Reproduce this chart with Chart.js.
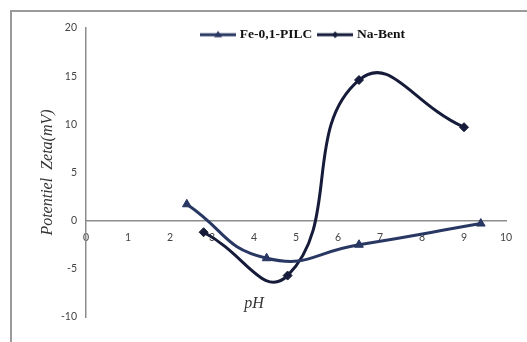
<!DOCTYPE html>
<html>
<head>
<meta charset="utf-8">
<script src="https://cdn.jsdelivr.net/npm/chart.js@4.4.0/dist/chart.umd.min.js"></script>
<style>
body{margin:0;background:#fff;overflow:hidden}
#wrap{position:absolute;left:0;top:0;width:527px;height:342px}
</style>
</head>
<body>
<div id="wrap"><canvas id="zetaChart"></canvas></div>
<script>
// pH values and zeta potential (mV)
var fePH=[2.4,4.3,6.5,9.4]
var feZeta=[1.7,-3.9,-2.5,-0.3]
var naPH=[2.8,4.8,6.5,9.0]
var naZeta=[-1.2,-5.7,14.6,9.7]
var seriesNames=['Fe-0,1-PILC','Na-Bent']
var xTicks=[0,1,2,3,4,5,6,7,8,9,10]
var yTicks=[-10,-5,0,5,10,15,20]

var feColor='#293763'
var naColor='#151b38'

const toPoints = function(xs,ys){
	return xs.map((x,i) => ({x:x,y:ys[i]}))
}

// little line+marker images for the legend
const legendIcon = function(color,style){
	var c=document.createElement('canvas')
	c.width=36
	c.height=10
	var g=c.getContext('2d')
	g.strokeStyle=color
	g.lineWidth=3
	g.beginPath()
	g.moveTo(0,5)
	g.lineTo(36,5)
	g.stroke()
	g.fillStyle=color
	g.beginPath()
	if(style=='triangle'){
		g.moveTo(18,1);g.lineTo(22,7.5);g.lineTo(14,7.5)
	}else{
		g.moveTo(18,1.5);g.lineTo(21,5);g.lineTo(18,8.5);g.lineTo(15,5)
	}
	g.closePath()
	g.fill()
	return c
}
var icons=[legendIcon(feColor,'triangle'),legendIcon(naColor,'rectRot')]

const framePlugin = {
	id:'frame',
	beforeDraw(chart){
		var ctx=chart.ctx
		ctx.save()
		ctx.strokeStyle='#9a9a9a'
		ctx.lineWidth=2
		ctx.strokeRect(11,11,600,400)
		ctx.restore()
	}
}

// legend sits inside the plot area like in the original, so give it room to draw
const legendOverlay = {
	id:'legendOverlay',
	afterLayout(chart){
		var lg=chart.legend
		lg.top=lg.top-8
		lg.height=34
		lg.bottom=lg.top+34
		lg.left=lg.left+8
		lg.right=lg.right+8
	}
}

const phLabel = {
	id:'phLabel',
	afterDraw(chart){
		var ctx=chart.ctx
		var xs=chart.scales.x, ys=chart.scales.y
		ctx.save()
		ctx.font='italic 16px "Liberation Serif"'
		ctx.fillStyle='#333'
		ctx.textAlign='center'
		ctx.textBaseline='middle'
		ctx.fillText('pH',xs.getPixelForValue(4.0),ys.getPixelForValue(-8.6))
		ctx.restore()
	}
}

new Chart(document.getElementById('zetaChart'),{
	type:'scatter',
	data:{
		datasets:[{
			label:seriesNames[0],
			data:toPoints(fePH,feZeta),
			showLine:true,
			tension:0.5,
			borderColor:feColor,
			backgroundColor:feColor,
			borderWidth:3,
			pointStyle:'triangle',
			pointRadius:5,
			pointBorderWidth:1
		},
		{
			label:seriesNames[1],
			data:toPoints(naPH,naZeta),
			showLine:true,
			tension:0.5,
			borderColor:naColor,
			backgroundColor:naColor,
			borderWidth:3,
			pointStyle:'rectRot',
			pointRadius:4.5,
			pointBorderWidth:1
		}]
	},
	options:{
		responsive:true,
		maintainAspectRatio:false,
		animation:false,
		layout:{padding:{left:38,top:28,right:21,bottom:25}},
		plugins:{
			tooltip:{enabled:false},
			legend:{
				position:'top',
				fullSize:false,
				maxHeight:0.01,
				labels:{
					usePointStyle:true,
					pointStyleWidth:30,
					padding:8,
					color:'#111',
					font:{family:'"Liberation Serif"',size:13.5,weight:'bold'},
					generateLabels(chart){
						return chart.data.datasets.map((ds,i) => ({
							text:ds.label,
							pointStyle:icons[i],
							fillStyle:ds.borderColor,
							strokeStyle:ds.borderColor,
							lineWidth:0,
							fontColor:'#111',
							datasetIndex:i
						}))
					}
				}
			}
		},
		scales:{
			x:{
				type:'linear',
				position:{y:0},
				min:0,
				max:10,
				afterBuildTicks(scale){ scale.ticks=xTicks.map(v => ({value:v})) },
				grid:{display:false,drawTicks:false},
				border:{color:'#8c8c8c',width:1.5},
				ticks:{padding:11,color:'#444',font:{family:'Lato',size:10.5}}
			},
			y:{
				type:'linear',
				min:-10,
				max:20,
				afterBuildTicks(scale){ scale.ticks=yTicks.map(v => ({value:v})) },
				afterFit(scale){ scale.width=48 },
				grid:{display:false,drawTicks:false},
				border:{color:'#8c8c8c',width:1.5},
				ticks:{padding:9,color:'#444',font:{family:'Lato',size:10.5}},
				title:{
					display:true,
					text:'Potentiel  Zeta(mV)',
					color:'#333',
					padding:{top:0,bottom:0},
					font:{family:'"Liberation Serif"',size:16,style:'italic'}
				}
			}
		}
	},
	plugins:[framePlugin,legendOverlay,phLabel]
})
</script>
</body>
</html>
